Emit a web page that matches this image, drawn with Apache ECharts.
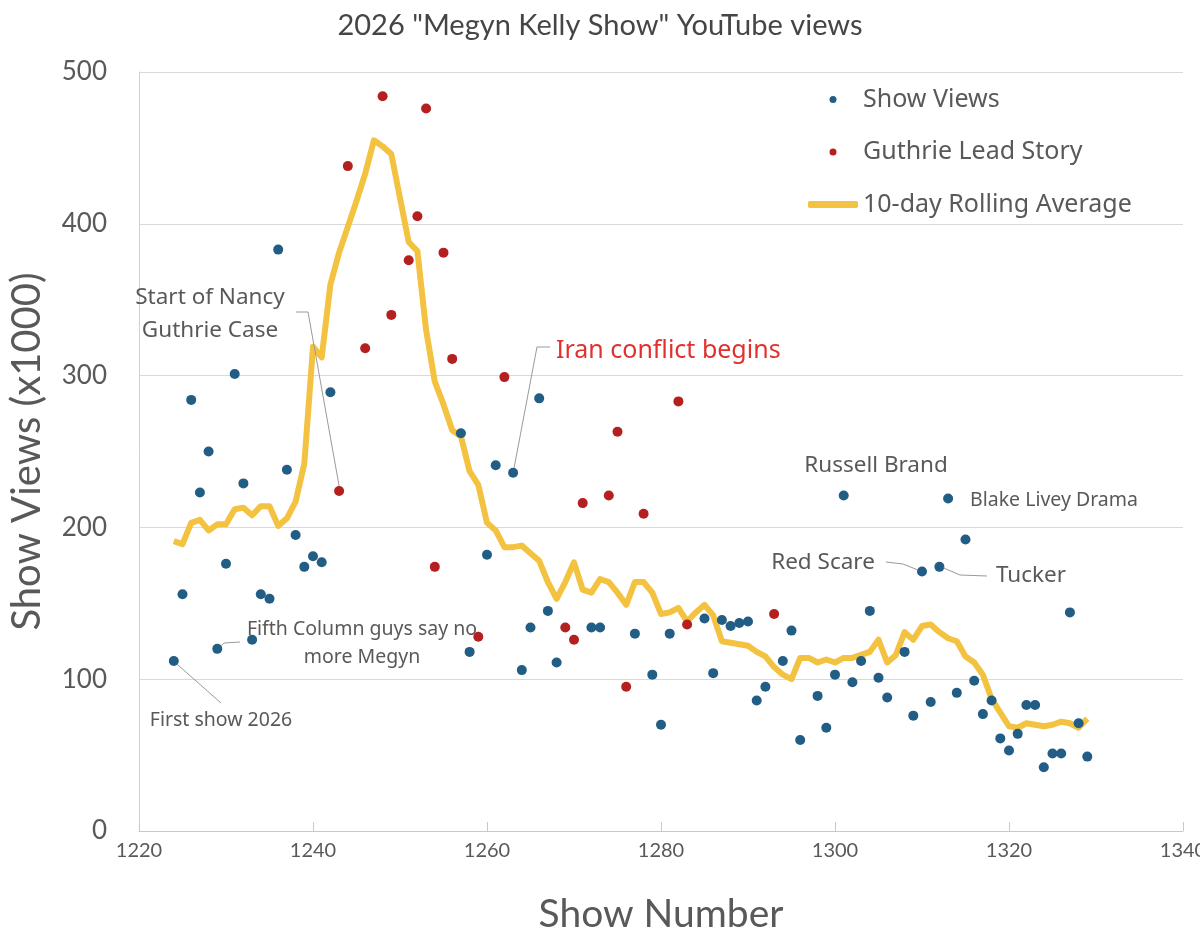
<!DOCTYPE html>
<html>
<head>
<meta charset="utf-8">
<script src="https://cdn.jsdelivr.net/npm/echarts@6/dist/echarts.min.js"></script>
<style>
  html, body { margin: 0; padding: 0; background: #fff; }
  #main { width: 1200px; height: 933px; }
</style>
</head>
<body>
<div id="main"></div>
<script>
// show numbers / views (x1000)
var viewShows = [1224, 1225, 1226, 1227, 1228, 1229, 1230, 1231, 1232, 1233, 1234, 1235, 1236, 1237, 1238, 1239, 1240, 1241, 1242,
    1257, 1258, 1260, 1261, 1263, 1264, 1265, 1266, 1267, 1268, 1272, 1273, 1277, 1279, 1280, 1281, 1285, 1286, 1287, 1288, 1289, 1290,
    1291, 1292, 1294, 1295, 1296, 1298, 1299, 1300, 1301, 1302, 1303, 1304, 1305, 1306, 1308, 1309, 1310, 1311, 1312, 1313, 1314, 1315,
    1316, 1317, 1318, 1319, 1320, 1321, 1322, 1323, 1324, 1325, 1326, 1327, 1328, 1329];
var viewValues = [112, 156, 284, 223, 250, 120, 176, 301, 229, 126, 156, 153, 383, 238, 195, 174, 181, 177, 289,
    262, 118, 182, 241, 236, 106, 134, 285, 145, 111, 134, 134, 130, 103, 70, 130, 140, 104, 139, 135, 137, 138,
    86, 95, 112, 132, 60, 89, 68, 103, 221, 98, 112, 145, 101, 88, 118, 76, 171, 85, 174, 219, 91, 192,
    99, 77, 86, 61, 53, 64, 83, 83, 42, 51, 51, 144, 71, 49];

var guthrieShows = [1243, 1244, 1246, 1248, 1249, 1251, 1252, 1253, 1254, 1255, 1256, 1259, 1262, 1269, 1270, 1271, 1274, 1275, 1276, 1278, 1282, 1283, 1293];
var guthrieValues = [224, 438, 318, 484, 340, 376, 405, 476, 174, 381, 311, 128, 299, 134, 126, 216, 221, 263, 95, 209, 283, 136, 143];

var avgShows = [1224, 1225, 1226, 1227, 1228, 1229, 1230, 1231, 1232, 1233, 1234, 1235, 1236, 1237, 1238, 1239, 1240, 1241, 1242, 1243,
    1244, 1245, 1246, 1247, 1248, 1249, 1250, 1251, 1252, 1253, 1254, 1255, 1256, 1257, 1258, 1259, 1260, 1261, 1262, 1263,
    1264, 1265, 1266, 1267, 1268, 1269, 1270, 1271, 1272, 1273, 1274, 1275, 1276, 1277, 1278, 1279, 1280, 1281, 1282, 1283,
    1284, 1285, 1286, 1287, 1288, 1289, 1290, 1291, 1292, 1293, 1294, 1295, 1296, 1297, 1298, 1299, 1300, 1301, 1302, 1303,
    1304, 1305, 1306, 1307, 1308, 1309, 1310, 1311, 1312, 1313, 1314, 1315, 1316, 1317, 1318, 1319, 1320, 1321, 1322, 1323,
    1324, 1325, 1326, 1327, 1328, 1329];
var avgValues = [191, 189, 203, 205, 198, 202, 202, 212, 213, 208, 214, 214, 201, 206, 217, 242, 319, 312, 360, 381,
    398, 415, 433, 455, 451, 446, 417, 388, 382, 330, 296, 281, 264, 260, 237, 228, 203, 198, 187, 187,
    188, 183, 178, 164, 153, 164, 177, 159, 157, 166, 164, 157, 149, 164, 164, 157, 143, 144, 147, 138,
    144, 149, 142, 125, 124, 123, 122, 118, 115, 108, 103, 100, 114, 114, 111, 113, 111, 114, 114, 116,
    118, 126, 111, 116, 131, 126, 135, 136, 131, 127, 125, 115, 111, 103, 87, 78, 69, 68, 71, 70,
    69, 70, 72, 71, 68, 74];

var xTicks = { min: 1220, max: 1340, step: 20 };
var yTicks = { min: 0, max: 500, step: 100 };

function pairs(xs, ys) {
    var out = [];
    for (var i = 0; i < xs.length; i++) out.push([xs[i], ys[i]]);
    return out;
}

var BLUE = '#215d84';
var RED = '#b4201f';
var GOLD = '#f3c241';
var GREY_TEXT = '#595959';
var SANS = '"Noto Sans", sans-serif';
var GILL = 'Lato, sans-serif';

var myChart = echarts.init(document.getElementById('main'));

var option = {
    backgroundColor: '#fff',
    animation: false,
    title: {
        text: '2026 "Megyn Kelly Show" YouTube views',
        left: 'center',
        top: 6,
        textStyle: { fontFamily: GILL, fontWeight: 'normal', fontSize: 29, color: '#454545' }
    },
    grid: { left: 139, right: 17, top: 72, bottom: 102, outerBoundsMode: 'none' },
    legend: {
        orient: 'vertical',
        left: 803,
        top: 82,
        itemWidth: 50,
        itemHeight: 7,
        itemGap: 27.5,
        textStyle: { fontFamily: SANS, fontSize: 25, color: GREY_TEXT },
        data: [
            { name: 'Show Views', icon: 'circle' },
            { name: 'Guthrie Lead Story', icon: 'circle' },
            { name: '10-day Rolling Average', icon: 'roundRect', itemStyle: { color: GOLD } }
        ]
    },
    xAxis: {
        type: 'value',
        min: xTicks.min,
        max: xTicks.max,
        interval: xTicks.step,
        name: 'Show Number',
        nameLocation: 'middle',
        nameGap: 64,
        nameTextStyle: { fontFamily: GILL, fontSize: 39, color: GREY_TEXT },
        axisLine: { show: true, lineStyle: { color: '#c8c8c8', width: 1 } },
        axisTick: { show: true, inside: true, length: 9, lineStyle: { color: '#c8c8c8' } },
        axisLabel: {
            fontFamily: GILL, fontSize: 20, color: GREY_TEXT, margin: 10,
            formatter: function (v) { return String(v); }
        },
        splitLine: { show: false }
    },
    yAxis: {
        type: 'value',
        min: yTicks.min,
        max: yTicks.max,
        interval: yTicks.step,
        name: 'Show Views (x1000)',
        nameLocation: 'middle',
        nameGap: 92,
        nameTextStyle: { fontFamily: GILL, fontSize: 40, color: GREY_TEXT },
        axisLine: { show: true, lineStyle: { color: '#d0d0d0', width: 1 } },
        axisTick: { show: false },
        axisLabel: { fontFamily: GILL, fontSize: 26, color: GREY_TEXT, margin: 32 },
        splitLine: { show: true, lineStyle: { color: '#d9d9d9', width: 1 } }
    },
    series: [
        {
            name: '10-day Rolling Average',
            type: 'line',
            data: pairs(avgShows, avgValues),
            symbol: 'none',
            z: 2,
            lineStyle: { color: GOLD, width: 6, join: 'round' },
            itemStyle: { color: GOLD }
        },
        {
            name: 'Show Views',
            type: 'scatter',
            data: pairs(viewShows, viewValues),
            symbolSize: 10,
            z: 3,
            itemStyle: { color: BLUE, opacity: 1 }
        },
        {
            name: 'Guthrie Lead Story',
            type: 'scatter',
            data: pairs(guthrieShows, guthrieValues),
            symbolSize: 10,
            z: 3,
            itemStyle: { color: RED, opacity: 1 }
        }
    ]
};

myChart.setOption(option);

// annotations: text placed in pixels, leader lines end on the data point
function px(show, val) {
    return myChart.convertToPixel({ gridIndex: 0 }, [show, val]);
}
function txt(x, y, s, size, lh, color, align) {
    return {
        type: 'text', x: x, y: y, z: 10,
        style: {
            text: s, fontFamily: SANS, fontSize: size, fill: color || GREY_TEXT,
            align: align || 'center', verticalAlign: 'middle', lineHeight: lh
        }
    };
}
function leader(points) {
    return {
        type: 'polyline', z: 9,
        shape: { points: points },
        style: { stroke: '#9a9a9a', lineWidth: 1, fill: null }
    };
}

var pGuthrie = px(1243, 224);
var pIran = px(1263, 236);
var pFirst = px(1224, 112);
var pFifth = px(1229, 120);
var pTucker = px(1312, 174);

var graphics = [
    txt(210, 314, 'Start of Nancy\nGuthrie Case', 22.5, 33),
    leader([[296, 312], [308, 312], [pGuthrie[0], pGuthrie[1] - 5]]),
    txt(556, 351, 'Iran conflict begins', 25, 30, '#e0312f', 'left'),
    leader([[550, 347], [537, 347], [pIran[0] + 1, pIran[1] - 5]]),
    txt(876, 466, 'Russell Brand', 22.5, 28),
    txt(1054, 500, 'Blake Livey Drama', 19.5, 24),
    txt(823, 563, 'Red Scare', 22.5, 28),
    leader([[886, 562], [903, 564], [918, 570]]),
    txt(1031, 576, 'Tucker', 22.5, 28),
    leader([[pTucker[0] + 4, pTucker[1] + 1], [960, 575], [987, 576]]),
    txt(362, 643, 'Fifth Column guys say no\nmore Megyn', 19.5, 28),
    leader([[pFifth[0] + 4, pFifth[1] - 3], [224, 643], [240, 642]]),
    txt(221, 720, 'First show 2026', 19.5, 24),
    leader([[pFirst[0] + 3, pFirst[1] + 3], [221, 703]])
];

myChart.setOption({ graphic: graphics });
</script>
</body>
</html>
